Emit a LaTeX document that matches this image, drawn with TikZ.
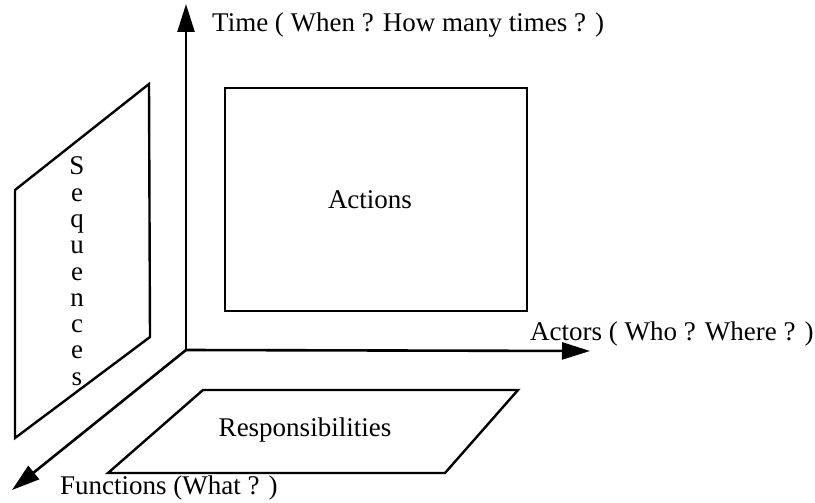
\documentclass[tikz,border=0pt]{standalone}
\usepackage{fontspec}
\setmainfont{Liberation Serif}
\usetikzlibrary{arrows.meta}
\begin{document}
\begin{tikzpicture}[x=1pt,y=-1pt,
  axis/.style={line width=2.6pt,-{Triangle[length=28pt,width=17pt]}},
  plane/.style={line width=2.4pt,line join=miter},
  lbl/.style={font=\fontsize{27}{30}\selectfont,inner sep=0pt},
  seqletter/.style={font=\fontsize{27}{30}\selectfont,inner sep=0pt,anchor=base}]
\useasboundingbox (0,0) rectangle (815,503);
% axes
\coordinate (O) at (186,350);
\coordinate (T) at (186,4);
\coordinate (A) at (590,351);
\coordinate (F) at (12,490);
\draw[axis] (O) -- (T);
\draw[axis] (O) -- (A);
\draw[axis] (O) -- (F);
% axis labels
\node[lbl,anchor=base west] (tlab) at (212,32) {Time ( When ? How many times ? )};
\node[lbl,anchor=base west] (alab) at (530,340) {Actors ( Who ? Where ? )};
\node[lbl,anchor=base west] (flab) at (60,494) {Functions (What ? )};
% planes
\draw[plane] (225,88) rectangle (527,311);
\node[lbl] (act) at (370,200) {Actions};
\draw[plane] (15,190) -- (149,84) -- (150,337) -- (15,438) -- cycle;
\draw[plane] (203,390) -- (518,390) -- (445,473) -- (108,473) -- cycle;
\node[lbl] (resp) at (305,430) {Responsibilities};
% vertical label
\foreach \c [count=\i from 0] in {S,e,q,u,e,n,c,e,s}
  \node[seqletter] (s\i) at (77,175+\i*26.25) {\c};
\end{tikzpicture}
\end{document}
